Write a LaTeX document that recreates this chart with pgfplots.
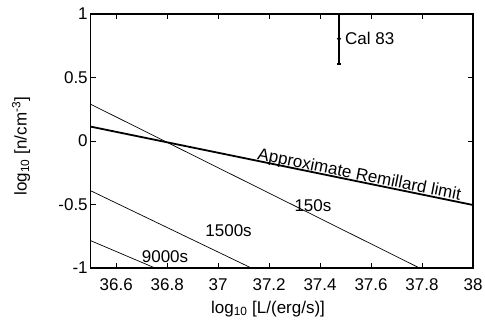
\documentclass[border=0pt]{standalone}
\usepackage{fontspec}
\setmainfont{Liberation Sans}
\usepackage{pgfplots}
\pgfplotsset{compat=1.18}
\begin{document}
\begin{tikzpicture}[font=\fontsize{17bp}{20bp}\selectfont]
\begin{axis}[
  scale only axis,
  width=382.3bp, height=254bp,
  xmin=36.5, xmax=38, ymin=-1, ymax=1,
  xtick={36.6,36.8,37,37.2,37.4,37.6,37.8,38},
  xticklabels={36.6,36.8,37,37.2,37.4,37.6,37.8,38},
  ytick={-1,-0.5,0,0.5,1},
  yticklabels={-1,-0.5,0,0.5,1},
  tick align=inside,
  major tick length=5bp,
  axis line style={line width=1.1bp},
  every tick/.style={line width=0.8bp, black},
  xticklabel style={yshift=-7bp},
  yticklabel style={xshift=0.5bp},
  xlabel={log\textsubscript{10} [L/(erg/s)]},
  ylabel={log\textsubscript{10} [n/cm\textsuperscript{-3}]},
  xlabel style={at={(rel axis cs:0.4638,-0.16)}, anchor=center},
  ylabel style={at={(rel axis cs:-0.1823,0.48)}, anchor=center, rotate=0},
  clip=false,
]
\addplot[black, line width=1.8bp] coordinates {(36.5,0.113) (38,-0.504)};
\addplot[black, line width=0.7bp] coordinates {(36.5,0.289) (37.79,-1)};
\addplot[black, line width=0.7bp] coordinates {(36.5,-0.392) (37.13,-1)};
\addplot[black, line width=0.7bp] coordinates {(36.5,-0.785) (36.752,-1)};
\addplot[black, line width=1.3bp, mark=*, mark size=1.2bp,
  error bars/.cd, y dir=both, y explicit,
  error bar style={line width=1.3bp}, error mark=none]
  coordinates {(37.474,0.805) +- (0,0.198)};
\addplot[black, only marks, mark=-, mark size=2.4bp, mark options={line width=1.2bp}]
  coordinates {(37.474,0.607) (37.474,1.0)};
\node[anchor=west, inner sep=1bp, xshift=5bp] at (axis cs:37.474,0.805) {Cal 83};
\node[anchor=base, inner sep=0pt, rotate=-11.3] at (axis cs:37.55,-0.305) {Approximate Remillard limit};
\node[anchor=center, inner sep=0pt] at (axis cs:37.372,-0.508) {150s};
\node[anchor=center, inner sep=0pt] at (axis cs:37.041,-0.707) {1500s};
\node[anchor=center, inner sep=0pt] at (axis cs:36.7915,-0.911) {9000s};
\coordinate (bbl) at (rel axis cs:-0.2373,-0.2047);
\coordinate (btr) at (rel axis cs:1.0314,1.0551);
\end{axis}
\pgfresetboundingbox
\path[use as bounding box] (bbl) rectangle (btr);
\end{tikzpicture}
\end{document}
